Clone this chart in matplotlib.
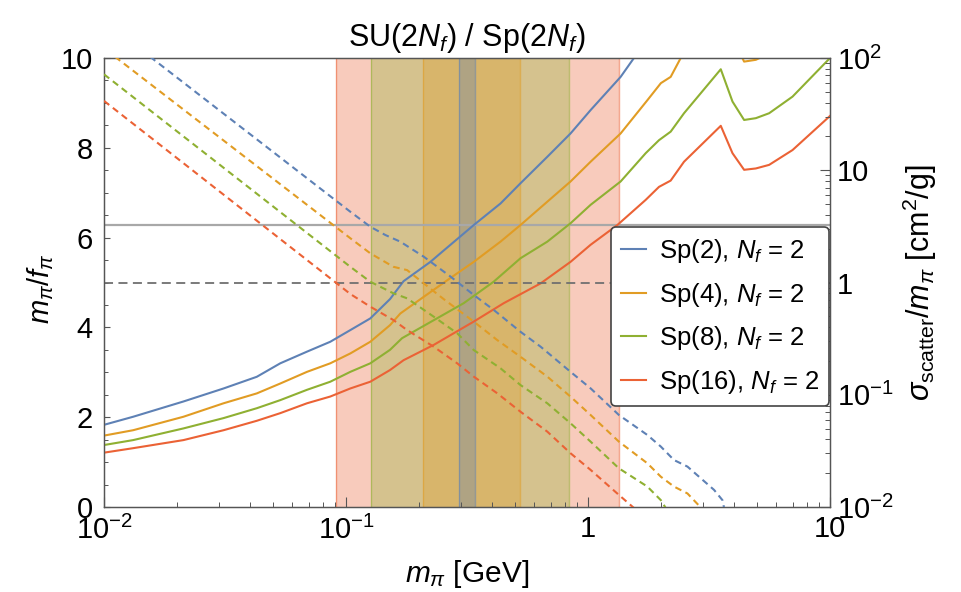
## Importing Libraries

import numpy as np
import matplotlib.pyplot as plt
from matplotlib.ticker import MultipleLocator, LogLocator, NullFormatter

plt.rcParams['font.family'] = ['Liberation Sans', 'DejaVu Sans']
plt.rcParams['mathtext.fontset'] = 'custom'
plt.rcParams['mathtext.rm'] = 'Liberation Sans'
plt.rcParams['mathtext.it'] = 'Liberation Sans:italic'
plt.rcParams['mathtext.bf'] = 'Liberation Sans:bold'

## Data

labels = ["Sp(2), $N_f$ = 2", "Sp(4), $N_f$ = 2", "Sp(8), $N_f$ = 2", "Sp(16), $N_f$ = 2"]
colors = ["#5E81B5", "#E19C24", "#8FB032", "#EB6235"]

# m_pi / f_pi (left axis, solid)
mpi_sp2 = [0.01, 0.0132, 0.0213, 0.0312, 0.0428, 0.0535, 0.069, 0.0861, 0.1042, 0.126, 0.152, 0.173,
           0.2233, 0.2455, 0.3373, 0.435, 0.526, 0.679, 0.847, 1.025, 1.364, 1.548, 2.0]
mf_sp2 = [1.83, 2.01, 2.35, 2.64, 2.90, 3.20, 3.46, 3.68, 3.94, 4.20, 4.63, 5.03,
          5.46, 5.65, 6.28, 6.76, 7.21, 7.80, 8.32, 8.84, 9.58, 10.0, 11.0]

mpi_sp4 = [0.01, 0.0132, 0.0213, 0.0312, 0.0428, 0.0535, 0.069, 0.0861, 0.1042, 0.126, 0.152, 0.1677,
           0.2094, 0.2701, 0.3373, 0.435, 0.526, 0.679, 0.847, 1.025, 1.364, 1.759, 2.0, 2.196, 2.416,
           3.537, 4.416, 4.936, 5.603, 7.0, 10.0]
mf_sp4 = [1.59, 1.71, 2.01, 2.31, 2.53, 2.75, 3.01, 3.20, 3.42, 3.68, 4.05, 4.31,
          4.68, 5.10, 5.46, 5.91, 6.28, 6.80, 7.25, 7.69, 8.32, 9.06, 9.44, 9.58, 10.0,
          11.0, 9.92, 9.96, 10.1, 10.5, 11.3]

mpi_sp8 = [0.01, 0.0132, 0.0213, 0.0312, 0.0428, 0.0535, 0.069, 0.0861, 0.1042, 0.126, 0.152, 0.1705,
           0.2304, 0.3066, 0.408, 0.526, 0.679, 0.847, 1.025, 1.364, 1.731, 1.965, 2.196, 2.493,
           3.537, 3.954, 4.416, 4.936, 5.603, 7.0, 10.0]
mf_sp8 = [1.38, 1.49, 1.75, 1.98, 2.20, 2.38, 2.61, 2.79, 3.01, 3.20, 3.50, 3.76,
          4.16, 4.54, 5.02, 5.54, 5.91, 6.32, 6.73, 7.25, 7.88, 8.17, 8.36, 8.77,
          9.75, 9.03, 8.62, 8.66, 8.77, 9.14, 10.0]

mpi_sp16 = [0.01, 0.0132, 0.0213, 0.0312, 0.0428, 0.0535, 0.069, 0.0861, 0.1042, 0.126, 0.152, 0.173,
            0.2304, 0.3373, 0.4487, 0.637, 0.847, 1.025, 1.322, 1.731, 1.965, 2.196, 2.493,
            3.537, 3.954, 4.416, 4.936, 5.603, 7.0, 10.0]
mf_sp16 = [1.21, 1.31, 1.49, 1.71, 1.92, 2.09, 2.31, 2.46, 2.64, 2.79, 3.05, 3.27,
           3.61, 4.13, 4.54, 4.98, 5.46, 5.84, 6.28, 6.84, 7.13, 7.27, 7.69,
           8.49, 7.88, 7.51, 7.54, 7.62, 7.95, 8.71]

# sigma_scatter / m_pi in cm^2/g (right axis, dashed)
smpi_sp2 = [0.0155, 0.1042, 0.126, 0.1454, 0.1677, 0.2094, 0.2701, 0.3373,
            0.408, 0.526, 0.637, 0.847, 1.025, 1.342, 1.759, 2.0, 2.266, 2.576, 3.318, 3.594, 3.65]
sig_sp2 = [102.7, 4.27, 3.14, 2.65, 2.31, 1.70, 1.13, 0.774,
           0.569, 0.364, 0.268, 0.160, 0.114, 0.066, 0.0438, 0.0345, 0.0262, 0.0229, 0.0142, 0.0115, 0.0098]

smpi_sp4 = [0.0111, 0.1042, 0.126, 0.157, 0.1788, 0.2094, 0.2534,
            0.3373, 0.4216, 0.526, 0.679, 0.847, 1.025, 1.342, 1.759, 2.0, 2.266, 2.576, 2.924]
sig_sp4 = [102.7, 2.48, 1.82, 1.38, 1.29, 0.984, 0.711,
           0.448, 0.307, 0.218, 0.145, 0.0961, 0.066, 0.0382, 0.0245, 0.0186, 0.0152, 0.0132, 0.0099]

smpi_sp8 = [0.01, 0.1042, 0.126, 0.157, 0.1788, 0.2304, 0.288,
            0.3373, 0.435, 0.526, 0.679, 0.847, 1.025, 1.342, 1.759, 2.0, 2.094]
sig_sp8 = [71.6, 1.38, 1.016, 0.801, 0.723, 0.496, 0.353,
           0.250, 0.172, 0.122, 0.0839, 0.0557, 0.0382, 0.0221, 0.0152, 0.0115, 0.0098]

smpi_sp16 = [0.01, 0.1042, 0.126, 0.157, 0.1788, 0.2304, 0.288,
             0.3373, 0.4216, 0.526, 0.679, 0.847, 1.025, 1.342, 1.548]
sig_sp16 = [41.5, 0.79, 0.609, 0.463, 0.377, 0.268, 0.1906,
            0.145, 0.103, 0.0706, 0.0469, 0.0301, 0.0214, 0.0128, 0.0098]

# allowed m_pi bands [GeV], widest first
band_lo = [0.0912, 0.1269, 0.2075, 0.292]
band_hi = [1.343, 0.837, 0.522, 0.340]
band_colors = ["#EB6235", "#8FB032", "#E19C24", "#5E81B5"]

mf_ref = 2 * np.pi
sigma_ref = 1.0

## Plot

fig = plt.figure(figsize=(9.61, 5.92), dpi=100)
ax = fig.add_axes([0.1082, 0.1436, 0.7555, 0.7584])
ax.set_xscale('log')
ax.set_xlim(0.01, 10)
ax.set_ylim(0, 10)

for lo, hi, c in zip(band_lo, band_hi, band_colors):
    ax.axvspan(lo, hi, facecolor=c, alpha=0.33, lw=0, zorder=0)
    ax.axvline(lo, color=c, alpha=0.55, lw=1, zorder=0.5)
    ax.axvline(hi, color=c, alpha=0.55, lw=1, zorder=0.5)

ax.axhline(mf_ref, color='#a8a8a8', lw=1.6, zorder=1)

solid_x = [mpi_sp2, mpi_sp4, mpi_sp8, mpi_sp16]
solid_y = [mf_sp2, mf_sp4, mf_sp8, mf_sp16]
handles = []
for xs, ys, c, lab in zip(solid_x, solid_y, colors, labels):
    h, = ax.plot(xs, ys, color=c, lw=1.5, label=lab, zorder=3)
    handles.append(h)

ax2 = ax.twinx()
ax2.set_yscale('log')
ax2.set_ylim(0.01, 100)
ax2.axhline(sigma_ref, color='#707070', lw=1.3, ls=(0, (5, 3)), zorder=1)

dash_x = [smpi_sp2, smpi_sp4, smpi_sp8, smpi_sp16]
dash_y = [sig_sp2, sig_sp4, sig_sp8, sig_sp16]
for xs, ys, c in zip(dash_x, dash_y, colors):
    ax2.plot(xs, ys, color=c, lw=1.5, ls=(0, (3.2, 2.2)), zorder=3)

## Axes styling

spine_col = '#555555'
for a in (ax, ax2):
    for s in a.spines.values():
        s.set_color(spine_col)
        s.set_linewidth(0.9)

ax.set_xticks([0.01, 0.1, 1, 10])
ax.set_xticklabels(['$10^{-2}$', '$10^{-1}$', '1', '10'])
ax.xaxis.set_minor_locator(LogLocator(base=10, subs=np.arange(2, 10)))
ax.xaxis.set_minor_formatter(NullFormatter())
ax.set_yticks([0, 2, 4, 6, 8, 10])
ax.yaxis.set_minor_locator(MultipleLocator(0.5))

ax2.set_yticks([0.01, 0.1, 1, 10, 100])
ax2.set_yticklabels(['$10^{-2}$', '$10^{-1}$', '1', '10', '$10^{2}$'])
ax2.yaxis.set_minor_locator(LogLocator(base=10, subs=np.arange(2, 10)))
ax2.yaxis.set_minor_formatter(NullFormatter())

ax.tick_params(which='major', direction='in', length=7, width=0.8, color=spine_col, labelsize=21, pad=6)
ax.tick_params(which='minor', direction='in', length=3.5, width=0.7, color=spine_col)
ax.tick_params(axis='y', which='major', length=4, pad=8)
ax.tick_params(axis='y', which='minor', length=3)
ax2.tick_params(which='major', direction='in', length=7, width=0.8, color=spine_col, labelsize=21, pad=5)
ax2.tick_params(which='minor', direction='in', length=3.5, width=0.7, color=spine_col)

ax.set_xlabel(r'$m_\pi$ [GeV]', fontsize=21.5)
ax.xaxis.set_label_coords(0.5, -0.113)
ax.set_ylabel(r'$m_\pi/f_\pi$', fontsize=21)
ax.yaxis.set_label_coords(-0.066, 0.4855)
ax2.set_ylabel(r'$\sigma_{\rm scatter}/m_\pi$ [cm$^2$/g]', fontsize=22)
ax2.yaxis.set_label_coords(1.098, 0.5)
ax.set_title(r'SU(2$N_f$) / Sp(2$N_f$)', fontsize=22, pad=9)

leg = ax2.legend(handles=handles, loc='center', bbox_to_anchor=(0.8485, 0.4245),
                 fontsize=18.5, handlelength=0.97, handletextpad=0.5, labelspacing=0.6,
                 borderpad=0.4, borderaxespad=0, framealpha=1, fancybox=True, edgecolor='#444444')
leg.get_frame().set_linewidth(1.2)

plt.savefig('out.png', dpi=100)
